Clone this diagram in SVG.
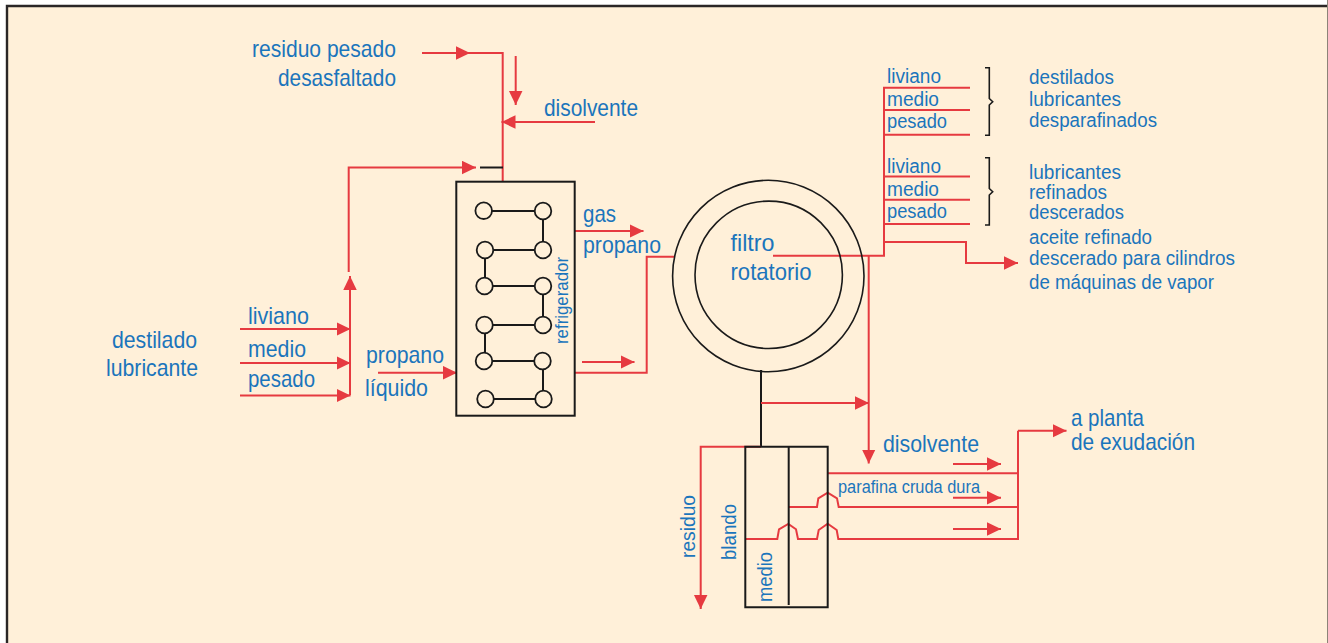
<svg xmlns="http://www.w3.org/2000/svg" width="1328" height="643" viewBox="0 0 1328 643">
<style>
text{font-family:"Liberation Sans",Arial,sans-serif;fill:#1b75bc;font-size:24px}
.s{font-size:20px}
.v{font-size:20.500px}
.xs{font-size:17.500px}
.r{fill:none;stroke:#e63a40;stroke-width:2}
.a{marker-end:url(#ah)}
.k{fill:none;stroke:#1a1a1a;stroke-width:2}
.b{fill:none;stroke:#1a1a1a;stroke-width:1.600}
</style>
<defs>
<marker id="ah" markerUnits="userSpaceOnUse" markerWidth="16" markerHeight="16" refX="14" refY="7" orient="auto"><path d="M0 0.250L14 7L0 13.750Z" fill="#e63a40"/></marker>
</defs>
<rect width="1328" height="643" fill="#fff"/>
<rect x="7" y="6" width="1320" height="637" fill="#fff0d9"/>
<path d="M7 643V6H1327" fill="none" stroke="#2a2626" stroke-width="2.400"/>
<rect x="1327" y="0" width="1" height="643" fill="#8c8478"/>

<g id="connectors">
<path class="r a" d="M422 53H470"/>
<path class="r" d="M469 53H502.700V181.700"/>
<path class="r a" d="M515.700 56V105"/>
<path class="r a" d="M595 122H501.500"/>
<path class="r a" d="M348.700 272V167.500H476"/>
<path class="k" d="M480 167.500H503"/>
<path class="r a" d="M350 395V276"/>
<path class="r a" d="M240 329H350.500"/>
<path class="r a" d="M240 363H350.500"/>
<path class="r a" d="M240 395.500H350.500"/>
<path class="r a" d="M378 372.700H457"/>
<path class="r a" d="M575 231H643.500"/>
<path class="r a" d="M582 362H634.500"/>
<path class="r" d="M575 372.700H646.700V256.700H675"/>
<path class="r" d="M773 255.700H884V87.700H970M884 110H970M884 134.700H970M884 176.500H970M884 199.700H970M884 224H970"/>
<path class="r a" d="M884 242H966V263H1018"/>
<path class="r a" d="M868.700 256V463.500"/>
<path class="k" d="M761 370V446.700"/>
<path class="r a" d="M761 403H869"/>
<path class="r a" d="M761 446.700H700.700V609"/>
<path class="r" d="M827.700 473.300H1018"/>
<path class="r" d="M789 507H817L818.300 498.300L827.700 492.700L837 498.300L838.700 507H1018"/>
<path class="r" d="M746 539H777.300L779 529.300L788.300 524L796 529.300L798 539H817L818.700 530L827.700 523.700L836.700 530L838.300 539H1018V430.700"/>
<path class="r a" d="M1018 430.700H1066.500"/>
<path class="r a" d="M953 464H1001"/>
<path class="r a" d="M953 497.700H1001"/>
<path class="r a" d="M953 529H1001"/>
</g>

<g id="refrigerador">
<rect class="k" x="456.300" y="181.700" width="118.400" height="234"/>
<path class="k" d="M484 211H543V250M485 250H543M485 250V286M485 286H543V325M485 325H543M485 325V361M484 361H543V399M486 399H543"/>
<g fill="#fff0d9" stroke="#1a1a1a" stroke-width="1.800">
<circle cx="483.700" cy="210.700" r="8.300"/><circle cx="543" cy="211" r="8.300"/>
<circle cx="485" cy="250" r="8.300"/><circle cx="543" cy="250" r="8.300"/>
<circle cx="484.500" cy="286" r="8.300"/><circle cx="543" cy="286" r="8.300"/>
<circle cx="484.500" cy="325" r="8.300"/><circle cx="543" cy="325" r="8.300"/>
<circle cx="484" cy="361" r="8.300"/><circle cx="542.500" cy="361" r="8.300"/>
<circle cx="485.500" cy="399" r="8.300"/><circle cx="543.500" cy="399" r="8.300"/>
</g>
<text class="xs" transform="translate(567.700 344) rotate(-90)" textLength="87" lengthAdjust="spacingAndGlyphs">refrigerador</text>
</g>

<g id="filtro">
<circle class="b" cx="768.300" cy="276" r="95.700"/>
<circle class="b" cx="768.700" cy="274.800" r="73.700"/>
<text x="730.500" y="251" textLength="44" lengthAdjust="spacingAndGlyphs">filtro</text>
<text x="730.500" y="280" textLength="81" lengthAdjust="spacingAndGlyphs">rotatorio</text>
</g>

<g id="separador">
<path class="k" d="M745.300 446.700H827.700V607.300H745.300ZM788.700 446.700V605"/>
<text transform="translate(695 558) rotate(-90)" class="v" textLength="63" lengthAdjust="spacingAndGlyphs">residuo</text>
<text transform="translate(736 560) rotate(-90)" class="v" textLength="56" lengthAdjust="spacingAndGlyphs">blando</text>
<text transform="translate(771.700 602) rotate(-90)" class="v" textLength="50" lengthAdjust="spacingAndGlyphs">medio</text>
</g>

<g id="llaves">
<path class="b" d="M985 67.700H989.300V98.500L992.700 101.700L989.300 105V135.300H985"/>
<path class="b" d="M985 157.700H989.300V188.500L992.700 191.700L989.300 195V225H985"/>
</g>

<g id="etiquetas">
<text x="252" y="57" textLength="144" lengthAdjust="spacingAndGlyphs">residuo pesado</text>
<text x="278" y="86" textLength="118" lengthAdjust="spacingAndGlyphs">desasfaltado</text>
<text x="544" y="116" textLength="94" lengthAdjust="spacingAndGlyphs">disolvente</text>
<text x="112" y="348" textLength="85" lengthAdjust="spacingAndGlyphs">destilado</text>
<text x="106" y="376" textLength="92" lengthAdjust="spacingAndGlyphs">lubricante</text>
<text x="248" y="324" textLength="61" lengthAdjust="spacingAndGlyphs">liviano</text>
<text x="248" y="357" textLength="58" lengthAdjust="spacingAndGlyphs">medio</text>
<text x="248" y="387" textLength="67" lengthAdjust="spacingAndGlyphs">pesado</text>
<text x="366" y="363" textLength="78" lengthAdjust="spacingAndGlyphs">propano</text>
<text x="365" y="396" textLength="63" lengthAdjust="spacingAndGlyphs">líquido</text>
<text x="583" y="222" textLength="33" lengthAdjust="spacingAndGlyphs">gas</text>
<text x="583" y="253" textLength="78" lengthAdjust="spacingAndGlyphs">propano</text>
<text class="s" x="887" y="83" textLength="54" lengthAdjust="spacingAndGlyphs">liviano</text>
<text class="s" x="887" y="105.700" textLength="52" lengthAdjust="spacingAndGlyphs">medio</text>
<text class="s" x="887" y="128" textLength="60" lengthAdjust="spacingAndGlyphs">pesado</text>
<text class="s" x="887" y="172.700" textLength="54" lengthAdjust="spacingAndGlyphs">liviano</text>
<text class="s" x="887" y="195.500" textLength="52" lengthAdjust="spacingAndGlyphs">medio</text>
<text class="s" x="887" y="218" textLength="60" lengthAdjust="spacingAndGlyphs">pesado</text>
<text class="s" x="1029" y="84" textLength="85" lengthAdjust="spacingAndGlyphs">destilados</text>
<text class="s" x="1029" y="105.700" textLength="92" lengthAdjust="spacingAndGlyphs">lubricantes</text>
<text class="s" x="1029" y="126.700" textLength="128" lengthAdjust="spacingAndGlyphs">desparafinados</text>
<text class="s" x="1029" y="179" textLength="92" lengthAdjust="spacingAndGlyphs">lubricantes</text>
<text class="s" x="1029" y="198.700" textLength="78" lengthAdjust="spacingAndGlyphs">refinados</text>
<text class="s" x="1029" y="219" textLength="95" lengthAdjust="spacingAndGlyphs">descerados</text>
<text class="s" x="1029" y="244" textLength="123" lengthAdjust="spacingAndGlyphs">aceite refinado</text>
<text class="s" x="1029" y="264.700" textLength="206" lengthAdjust="spacingAndGlyphs">descerado para cilindros</text>
<text class="s" x="1029" y="288.700" textLength="185" lengthAdjust="spacingAndGlyphs">de máquinas de vapor</text>
<text x="1071" y="426" textLength="73" lengthAdjust="spacingAndGlyphs">a planta</text>
<text x="1071" y="450" textLength="124" lengthAdjust="spacingAndGlyphs">de exudación</text>
<text x="883" y="452" textLength="96" lengthAdjust="spacingAndGlyphs">disolvente</text>
<text class="xs" x="838" y="493" textLength="142" lengthAdjust="spacingAndGlyphs">parafina cruda dura</text>
</g>
</svg>
